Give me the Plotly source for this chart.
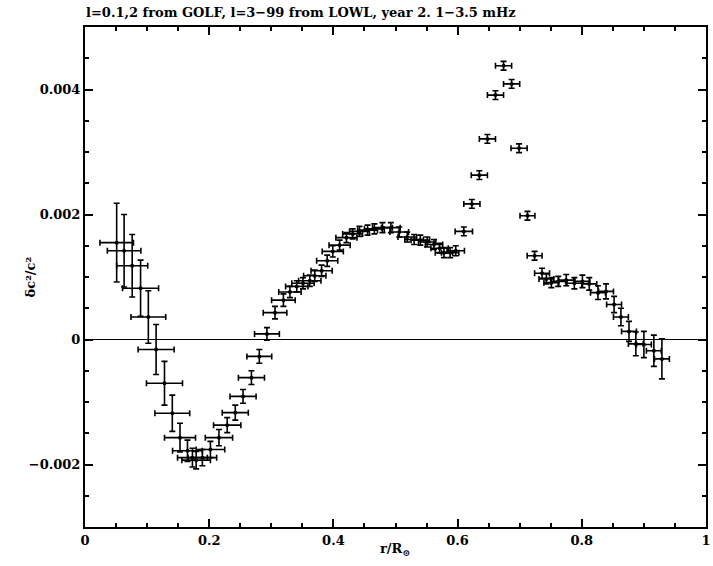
import plotly.graph_objects as go

r = [0.051, 0.063, 0.076, 0.0895, 0.102, 0.1145, 0.128, 0.1406, 0.153, 0.165,
     0.173, 0.179, 0.189, 0.202, 0.2157, 0.229, 0.242, 0.2545, 0.268, 0.2807,
     0.293, 0.306, 0.3195, 0.330, 0.341, 0.351, 0.362, 0.370, 0.381, 0.390,
     0.399, 0.410, 0.421, 0.431, 0.442, 0.455, 0.466, 0.479, 0.4925, 0.506,
     0.519, 0.530, 0.540, 0.551, 0.562, 0.571, 0.578, 0.588, 0.597, 0.610,
     0.623, 0.635, 0.648, 0.661, 0.674, 0.687, 0.699, 0.7125, 0.724, 0.736,
     0.743, 0.751, 0.762, 0.775, 0.788, 0.801, 0.812, 0.826, 0.839, 0.852,
     0.863, 0.876, 0.887, 0.900, 0.916, 0.929]
dc2 = [0.00155, 0.00142, 0.00118, 0.00082, 0.00036, -0.00016, -0.00070, -0.00118, -0.00157, -0.00178,
       -0.00189, -0.00193, -0.00189, -0.00176, -0.00157, -0.00137, -0.00117, -0.00091, -0.00061, -0.00027,
       0.00009, 0.00043, 0.00063, 0.00076, 0.00085, 0.00090, 0.00094, 0.00102, 0.00110, 0.00126,
       0.00141, 0.00151, 0.00163, 0.00169, 0.00173, 0.00175, 0.00177, 0.00179, 0.00179, 0.00172,
       0.00164, 0.00160, 0.00159, 0.00156, 0.00152, 0.00146, 0.00139, 0.00139, 0.00142, 0.00173,
       0.00217, 0.00263, 0.00321, 0.00391, 0.00438, 0.00409, 0.00306, 0.00198, 0.00134, 0.00106,
       0.00097, 0.00091, 0.00093, 0.00095, 0.00090, 0.00093, 0.00089, 0.00075, 0.00077, 0.00056,
       0.00036, 0.00013, -0.00007, -0.00008, -0.00018, -0.00031]
dc2_err = [0.00063, 0.00058, 0.00050, 0.00045, 0.00042, 0.00040, 0.00035, 0.00029, 0.00023, 0.00017,
           0.00015, 0.00014, 0.00013, 0.00013, 0.00013, 0.00012, 0.00012, 0.00011, 0.00011, 0.00011,
           0.00010, 0.00010, 0.00010, 0.00009, 0.00009, 0.00009, 0.00009, 0.00009, 0.00009, 0.00009,
           0.00009, 0.00008, 0.00008, 0.00008, 0.00008, 0.00008, 0.00008, 0.00008, 0.00008, 0.00008,
           0.00008, 0.00008, 0.00008, 0.00008, 0.00008, 0.00008, 0.00008, 0.00008, 0.00008, 0.00007,
           0.00007, 0.00007, 0.00007, 0.00007, 0.00007, 0.00007, 0.00007, 0.00007, 0.00007, 0.00008,
           0.00008, 0.00008, 0.00008, 0.00009, 0.00009, 0.00010, 0.00010, 0.00011, 0.00012, 0.00013,
           0.00014, 0.00016, 0.00019, 0.00021, 0.00025, 0.00032]
r_err = [0.027, 0.027, 0.025, 0.029, 0.028, 0.029, 0.029, 0.028, 0.025, 0.024,
         0.024, 0.023, 0.023, 0.023, 0.022, 0.022, 0.021, 0.021, 0.021, 0.020,
         0.020, 0.019, 0.019, 0.018, 0.018, 0.018, 0.018, 0.018, 0.017, 0.017,
         0.017, 0.017, 0.017, 0.016, 0.016, 0.016, 0.016, 0.016, 0.015, 0.015,
         0.015, 0.015, 0.015, 0.014, 0.014, 0.014, 0.014, 0.014, 0.014, 0.014,
         0.013, 0.013, 0.013, 0.013, 0.013, 0.013, 0.013, 0.012, 0.012, 0.012,
         0.012, 0.012, 0.012, 0.012, 0.012, 0.012, 0.012, 0.012, 0.012, 0.012,
         0.012, 0.012, 0.012, 0.012, 0.012, 0.012]

x_tickvals = [0, 0.2, 0.4, 0.6, 0.8, 1]
x_ticktext = ["0", "0.2", "0.4", "0.6", "0.8", "1"]
y_tickvals = [-0.002, 0, 0.002, 0.004]
y_ticktext = ["\u22120.002", "0", "0.002", "0.004"]

title_text = "l=0.1,2 from GOLF, l=3\u221299 from LOWL, year 2. 1\u22123.5 mHz"
x_title = "r/R<sub>\u2299</sub>"
y_title = "\u03b4c\u00b2/c\u00b2"

FONT = "DejaVu Serif"
W, H = 713, 566
L, R, T, B = 85, 2, 27, 39
PW, PH = W - L - R, H - T - B

fig = go.Figure()
fig.add_trace(go.Scatter(
    x=r, y=dc2, mode="markers",
    marker=dict(color="black", size=4),
    error_y=dict(type="data", array=dc2_err, color="black", thickness=1.6, width=3),
    error_x=dict(type="data", array=r_err, color="black", thickness=1.6, width=3),
    showlegend=False,
))

axis_common = dict(
    showgrid=False, ticks="inside", mirror="allticks", showline=True,
    linecolor="black", linewidth=2, tickcolor="black", ticklen=8, tickwidth=1.5,
    tickfont=dict(family=FONT, size=13, color="black"),
    ticklabeloverflow="allow",
)

fig.update_layout(
    width=W, height=H,
    margin=dict(l=L, r=R, t=T, b=B),
    paper_bgcolor="white", plot_bgcolor="white",
    title=dict(text="<b>" + title_text + "</b>", x=86 / W, xanchor="left", y=1 - 12 / H, yanchor="middle",
               font=dict(family=FONT, size=13, color="black")),
    xaxis=dict(range=[0, 1], tickvals=x_tickvals, ticktext=["<b>%s</b>" % t for t in x_ticktext],
               minor=dict(ticks="inside", ticklen=4, tickcolor="black", dtick=0.05, tick0=0, showgrid=False),
               zeroline=False,
               **axis_common),
    yaxis=dict(range=[-0.003, 0.005], tickvals=y_tickvals, ticktext=["<b>%s</b>" % t for t in y_ticktext],
               minor=dict(ticks="inside", ticklen=4, tickcolor="black", dtick=0.0005, tick0=0, showgrid=False),
               zeroline=True, zerolinecolor="black", zerolinewidth=1.2,
               **axis_common),
    annotations=[
        dict(text="<b>" + x_title + "</b>", xref="paper", yref="paper",
             x=(397 - L) / PW, y=-(549 - (H - B)) / PH, xanchor="center", yanchor="middle",
             showarrow=False, font=dict(family=FONT, size=13, color="black")),
        dict(text="<b>" + y_title + "</b>", xref="paper", yref="paper",
             x=(30 - L) / PW, y=(H - B - 277) / PH, xanchor="center", yanchor="middle",
             textangle=-90, showarrow=False, font=dict(family=FONT, size=13, color="black")),
    ],
)

fig.write_html("out.html")
